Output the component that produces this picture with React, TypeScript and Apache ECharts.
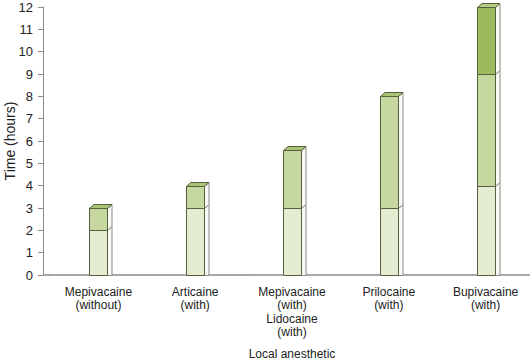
import React, { useEffect, useRef } from "react";
import * as echarts from "echarts";

const categories = [
  "Mepivacaine\n(without)",
  "Articaine\n(with)",
  "Mepivacaine\n(with)\nLidocaine\n(with)",
  "Prilocaine\n(with)",
  "Bupivacaine\n(with)",
];
const segment1 = [2, 3, 3, 3, 4];
const segment2 = [1, 1, 2.6, 5, 5];
const segment3 = [0, 0, 0, 0, 3];
const yTicks = [0, 12, 1];

const frontColors = ["#e3ebd1", "#c6d8a0", "#9dbb5c"];
const topColors = ["#c9d9a8", "#a9c476", "#b3cc80"];

export default function App() {
  const ref = useRef<HTMLDivElement>(null);
  useEffect(() => {
    if (!ref.current) return;
    const chart = echarts.init(ref.current, undefined, { renderer: "svg" });
    const segs = [segment1, segment2, segment3];
    const data: number[][] = [];
    categories.forEach((_, i) => {
      let base = 0;
      let lastSeg = 0;
      segs.forEach((s, k) => {
        if (s[i] > 0) lastSeg = k;
      });
      segs.forEach((s, k) => {
        if (s[i] > 0) {
          data.push([i, base, base + s[i], k, k === lastSeg ? 1 : 0]);
          base += s[i];
        }
      });
    });
    const W = 18;
    const DX = 4.5;
    const DY = 4;
    chart.setOption({
      animation: false,
      grid: {
        left: 50,
        top: 7,
        width: 484,
        height: 268,
        containLabel: false,
        outerBoundsMode: "none",
      },
      graphic: [
        {
          type: "line",
          shape: { x1: 43, y1: 275, x2: 51, y2: 275 },
          style: { stroke: "#8c8c8c", lineWidth: 1.5 },
          z: 10,
        },
      ],
      xAxis: {
        type: "category",
        data: categories,
        name: "Local anesthetic",
        nameLocation: "middle",
        nameGap: 73,
        nameMoveOverlap: false,
        nameTextStyle: { fontSize: 12, color: "#222", fontFamily: "Liberation Sans" },
        axisLine: { lineStyle: { color: "#8c8c8c", width: 1.5 } },
        axisTick: { show: false },
        axisLabel: {
          interval: 0,
          fontSize: 12,
          lineHeight: 13.5,
          margin: 10,
          color: "#222",
          fontFamily: "Liberation Sans",
        },
      },
      yAxis: {
        type: "value",
        min: yTicks[0],
        max: yTicks[1],
        interval: yTicks[2],
        offset: 7,
        name: "Time (hours)",
        nameLocation: "middle",
        nameGap: 26,
        nameMoveOverlap: false,
        nameTextStyle: { fontSize: 14, color: "#222", fontFamily: "Liberation Sans" },
        splitLine: { show: false },
        axisLine: { show: true, lineStyle: { color: "#8c8c8c", width: 1 } },
        axisTick: { show: true, length: 5, lineStyle: { color: "#8c8c8c" } },
        axisLabel: { fontSize: 13, color: "#222", margin: 10, fontFamily: "Liberation Sans" },
      },
      series: [
        {
          type: "custom",
          data,
          encode: { x: 0, y: [1, 2] },
          renderItem: (params: any, api: any) => {
            const idx = api.value(0);
            const lo = api.value(1);
            const hi = api.value(2);
            const seg = api.value(3);
            const isTop = api.value(4);
            const p0 = api.coord([idx, lo]);
            const p1 = api.coord([idx, hi]);
            const x0 = Math.round(p0[0] - W / 2) + 0.5;
            const x1 = x0 + W;
            const yb = Math.round(p0[1]) + 0.5;
            const yt = Math.round(p1[1]) + 0.5;
            const children: any[] = [
              {
                type: "polygon",
                shape: {
                  points: [
                    [x1, yb],
                    [x1 + DX, yb - (lo > 0 ? DY : 0)],
                    [x1 + DX, yt - DY],
                    [x1, yt],
                  ],
                },
                style: { fill: "#fafaf6", stroke: "#8a8a84", lineWidth: 1 },
              },
              {
                type: "rect",
                shape: { x: x0, y: yt, width: W, height: yb - yt },
                style: { fill: frontColors[seg], stroke: "#56603e", lineWidth: 1 },
              },
            ];
            if (isTop) {
              children.push({
                type: "polygon",
                shape: {
                  points: [
                    [x0, yt],
                    [x0 + DX, yt - DY],
                    [x1 + DX, yt - DY],
                    [x1, yt],
                  ],
                },
                style: { fill: topColors[seg], stroke: "#56603e", lineWidth: 1 },
              });
            }
            return { type: "group", children };
          },
        },
      ],
    });
    return () => chart.dispose();
  }, []);
  return (
    <div
      ref={ref}
      style={{ position: "fixed", left: 0, top: 0, width: 530, height: 360, background: "#fff" }}
    />
  );
}
